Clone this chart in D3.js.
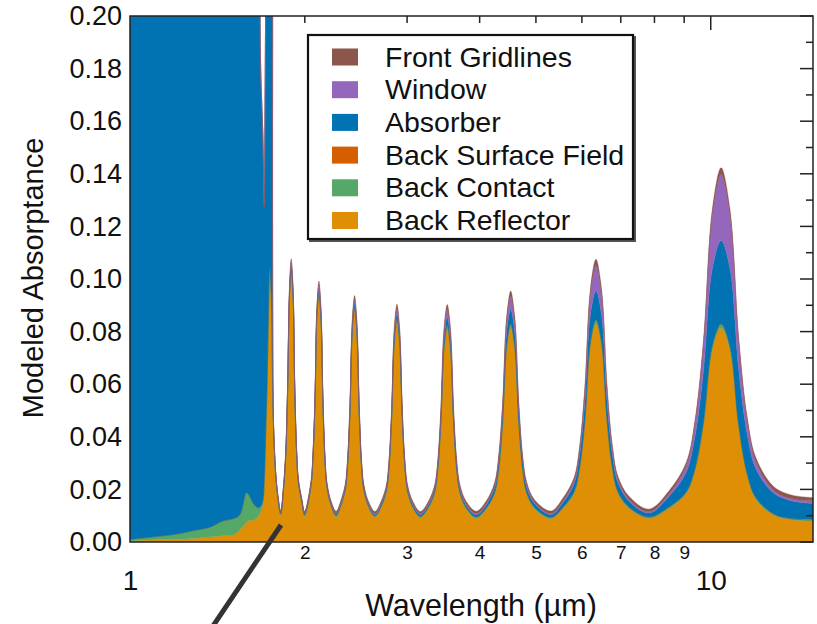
<!DOCTYPE html>
<html><head><meta charset="utf-8">
<script src="https://cdn.jsdelivr.net/npm/d3@7"></script>
<style>body{margin:0;background:#fff} svg{display:block}</style>
</head><body>
<svg id="chart" width="817" height="624"></svg>
<script>
// ---- data ----
const wavelength = [1.000,1.082,1.203,1.283,1.372,1.445,1.503,1.545,1.587,1.608,1.627,1.660,1.674,1.679,1.693,1.703,1.708,1.713,1.721,
 1.731,1.740,1.751,1.758,1.761,1.765,1.773,1.785,1.800,1.817,
 1.842,1.855,1.868,1.882,1.895,1.909,1.922,1.936,1.950,1.978,1.998,
 2.049,2.065,2.082,2.098,2.115,2.132,2.149,2.166,2.183,2.218,2.264,
 2.307,2.349,2.370,2.392,2.414,2.436,2.458,2.481,2.503,2.526,2.573,2.641,
 2.706,2.764,2.793,2.822,2.852,2.882,2.912,2.943,2.974,3.005,3.069,3.162,
 3.265,3.347,3.389,3.431,3.474,3.518,3.562,3.607,3.652,3.698,3.791,3.947,
 4.114,4.246,4.314,4.383,4.453,4.524,4.596,4.670,4.744,4.820,4.975,5.311,
 5.567,5.815,5.943,6.074,6.207,6.344,6.484,6.626,6.772,6.921,7.229,7.830,
 8.464,9.073,9.392,9.723,10.066,10.420,10.787,11.167,11.560,11.967,12.828,13.747,15.000];

const backReflector = [.0005,.0008,.0010,.0013,.0020,.0024,.0027,.0045,.0075,.0084,.0082,.0095,.0108,.0115,.0140,.0220,.0300,.0400,.0550,
 .0820,.1006,.0906,.0660,.0555,.0460,.0330,.0222,.0150,.0100,
 .0220,.0331,.0563,.0923,.1025,.0923,.0561,.0329,.0218,.0143,.0097,
 .0206,.0307,.0516,.0843,.0935,.0843,.0515,.0305,.0204,.0137,.0095,
 .0134,.0196,.0290,.0485,.0789,.0875,.0789,.0484,.0289,.0195,.0132,.0093,
 .0130,.0189,.0279,.0464,.0753,.0835,.0753,.0463,.0277,.0188,.0128,.0091,
 .0127,.0184,.0271,.0451,.0731,.0810,.0731,.0450,.0270,.0184,.0126,.0090,
 .0126,.0184,.0271,.0452,.0734,.0814,.0734,.0452,.0270,.0183,.0125,.0089,
 .0126,.0185,.0274,.0460,.0749,.0830,.0749,.0460,.0275,.0186,.0127,.0090,
 .0126,.0184,.0271,.0452,.0734,.0814,.0732,.0440,.0252,.0162,.0102,.0085,.0081];

const backContact = [.0005,.0010,.0020,.0030,.0036,.0056,.0061,.0058,.0112,.0089,.0068,.0035,.0025,.0020,.0015,.0015,.0018,.0020,.0025,
 .0030,.0035,.0031,.0025,.0022,.0019,.0015,.0010,.0007,.0005,
 .0006,.0006,.0008,.0009,.0010,.0009,.0008,.0006,.0005,.0004,.0004,
 .0005,.0006,.0007,.0009,.0010,.0009,.0007,.0006,.0005,.0004,.0004,
 .0004,.0005,.0006,.0007,.0009,.0010,.0009,.0007,.0006,.0005,.0004,.0004,
 .0004,.0005,.0006,.0007,.0009,.0010,.0009,.0007,.0006,.0005,.0004,.0004,
 .0004,.0005,.0006,.0007,.0009,.0010,.0009,.0007,.0005,.0004,.0003,.0003,
 .0004,.0004,.0006,.0008,.0011,.0012,.0011,.0008,.0006,.0004,.0004,.0003,
 .0004,.0004,.0006,.0008,.0011,.0012,.0011,.0008,.0006,.0004,.0004,.0003,
 .0004,.0004,.0006,.0008,.0011,.0012,.0011,.0007,.0005,.0004,.0003,.0002,.0002];

const backSurfaceField = [0,0,0,0,0,0,0,0,0,0,0,0,.0001,.0001,.0001,.0001,.0001,.0001,.0001,
 .0002,.0003,.0003,.0002,.0002,.0002,.0002,.0002,.0002,.0002,
 .0002,.0002,.0002,.0003,.0003,.0003,.0002,.0002,.0002,.0002,.0002,
 .0002,.0002,.0002,.0003,.0003,.0003,.0002,.0002,.0002,.0002,.0002,
 .0002,.0002,.0002,.0002,.0003,.0003,.0003,.0002,.0002,.0002,.0002,.0002,
 .0002,.0002,.0002,.0002,.0003,.0003,.0003,.0002,.0002,.0002,.0002,.0002,
 .0002,.0002,.0002,.0002,.0003,.0003,.0003,.0002,.0002,.0002,.0002,.0002,
 .0002,.0002,.0002,.0002,.0003,.0003,.0003,.0002,.0002,.0002,.0002,.0002,
 .0002,.0002,.0002,.0002,.0003,.0003,.0003,.0002,.0002,.0002,.0002,.0002,
 .0002,.0002,.0002,.0002,.0003,.0003,.0003,.0002,.0002,.0002,.0002,.0002,.0002];

const absorber = [.5,.5,.5,.5,.5,.5,.5,.5,.5,.5,.5,.5,.201,.166,.140,.104,.135,.170,.300,
 .400,.400,.400,.300,.250,.0004,.0003,.0003,.0003,.0003,
 .0004,.0005,.0008,.0011,.0012,.0011,.0008,.0006,.0005,.0004,.0004,
 .0005,.0006,.0009,.0013,.0014,.0013,.0010,.0007,.0006,.0005,.0005,
 .0006,.0007,.0008,.0011,.0016,.0017,.0016,.0012,.0009,.0007,.0006,.0006,
 .0007,.0008,.0010,.0013,.0019,.0020,.0019,.0014,.0010,.0009,.0008,.0007,
 .0008,.0010,.0013,.0020,.0029,.0032,.0029,.0020,.0014,.0011,.0009,.0008,
 .0012,.0017,.0025,.0036,.0051,.0055,.0051,.0037,.0026,.0019,.0014,.0010,
 .0018,.0030,.0045,.0070,.0102,.0110,.0102,.0072,.0048,.0034,.0023,.0015,
 .0040,.0075,.0121,.0196,.0293,.0317,.0296,.0213,.0149,.0110,.0079,.0068,.0062];

const windowLayer = [0,0,0,0,0,0,0,0,0,0,0,0,0,0,0,0,0,0,0,
 0,0,0,0,0,.0002,.0002,.0002,.0002,.0002,
 .0003,.0005,.0007,.0011,.0012,.0011,.0007,.0005,.0003,.0002,.0002,
 .0004,.0005,.0009,.0014,.0015,.0014,.0009,.0006,.0004,.0003,.0003,
 .0004,.0005,.0006,.0010,.0016,.0017,.0016,.0010,.0006,.0005,.0004,.0003,
 .0004,.0005,.0007,.0012,.0018,.0020,.0018,.0012,.0007,.0005,.0004,.0003,
 .0004,.0007,.0010,.0017,.0027,.0030,.0027,.0017,.0011,.0008,.0005,.0004,
 .0005,.0008,.0012,.0021,.0041,.0050,.0041,.0021,.0012,.0008,.0005,.0004,
 .0006,.0011,.0019,.0039,.0077,.0095,.0077,.0039,.0020,.0012,.0007,.0005,
 .0010,.0025,.0047,.0099,.0203,.0252,.0203,.0100,.0048,.0026,.0011,.0008,.0008];

const frontGridlines = [0,0,0,0,0,0,0,0,0,0,0,0,0,0,0,0,0,0,0,
 0,0,0,0,0,.0007,.0008,.0008,.0008,.0008,
 .0009,.0010,.0012,.0014,.0015,.0014,.0012,.0010,.0009,.0008,.0008,
 .0009,.0010,.0012,.0014,.0015,.0014,.0012,.0010,.0009,.0008,.0008,
 .0008,.0009,.0010,.0012,.0014,.0015,.0014,.0012,.0010,.0009,.0008,.0008,
 .0008,.0009,.0010,.0012,.0015,.0016,.0015,.0013,.0011,.0010,.0009,.0009,
 .0010,.0010,.0012,.0014,.0017,.0018,.0017,.0014,.0012,.0011,.0010,.0010,
 .0010,.0012,.0013,.0015,.0019,.0020,.0019,.0015,.0013,.0012,.0010,.0010,
 .0011,.0012,.0014,.0018,.0023,.0025,.0023,.0018,.0014,.0012,.0011,.0010,
 .0011,.0012,.0014,.0018,.0023,.0025,.0023,.0019,.0016,.0015,.0014,.0014,.0014];

const legendLabels = ["Front Gridlines","Window","Absorber","Back Surface Field","Back Contact","Back Reflector"];
const legendKeys   = ["frontGridlines","window","absorber","backSurfaceField","backContact","backReflector"];
const yTicks = [0,0.02,0.04,0.06,0.08,0.10,0.12,0.14,0.16,0.18,0.20];
const xMinorLabels = [2,3,4,5,6,7,8,9];
const xMajorLabels = [1,10];

// ---- chart ----
const series = {backReflector, backContact, backSurfaceField, absorber, window: windowLayer, frontGridlines};
const keys = ["backReflector","backContact","backSurfaceField","absorber","window","frontGridlines"];
const colors = {backReflector:"#DE8F05", backContact:"#55A868", backSurfaceField:"#D55E00",
                absorber:"#0173B2", window:"#9467BD", frontGridlines:"#8C564B"};
keys.forEach(k => { if (series[k].length !== wavelength.length) throw new Error(k+" length "+series[k].length+" vs "+wavelength.length); });

const L=130, R=813, T=16, B=542;
const FONT = "'Liberation Sans', Arial, Helvetica, sans-serif";
const svg = d3.select("#chart").style("font-family", FONT);
const x = d3.scaleLog().domain([1,15]).range([L,R]);
const y = d3.scaleLinear().domain([0,0.2]).range([B,T]);

const rows = wavelength.map((w,i) => { const r = {w}; keys.forEach(k => r[k] = series[k][i]); return r; });
const stacked = d3.stack().keys(keys)(rows);
const area = d3.area().x(d => x(d.data.w)).y0(d => y(d[0])).y1(d => y(d[1])).curve(d3.curveCatmullRom.alpha(0.5));

svg.append("defs").append("clipPath").attr("id","plotclip")
  .append("rect").attr("x",L).attr("y",T).attr("width",R-L).attr("height",B-T);

svg.append("g").attr("clip-path","url(#plotclip)")
  .selectAll("path").data(stacked).join("path")
  .attr("fill", d => colors[d.key])
  .attr("stroke", d => colors[d.key]).attr("stroke-width", 0.4)
  .attr("d", area);

// frame
svg.append("rect").attr("x",L).attr("y",T).attr("width",R-L).attr("height",B-T)
  .attr("fill","none").attr("stroke","#222").attr("stroke-width",1.5);

// left tick labels
const yAxis = d3.axisLeft(y).tickValues(yTicks).tickFormat(d3.format(".2f")).tickSize(0).tickPadding(8);
const gy = svg.append("g").attr("transform",`translate(${L},0)`).call(yAxis);
gy.select(".domain").remove();
gy.selectAll("text").attr("font-size",27).attr("fill","#111").attr("font-family",FONT);

// right ticks (inward)
const rightTicks = d3.range(0, 21).map(i => i/100);
svg.append("g").selectAll("line").data(rightTicks).join("line")
  .attr("x1", R).attr("x2", d => R - (Math.round(d*100)%2===0 ? 13 : 7))
  .attr("y1", d => y(d)).attr("y2", d => y(d))
  .attr("stroke","#222").attr("stroke-width",1.5);

// top ticks (inward)
svg.append("g").selectAll("line").data([2,3,4,5,6,7,8,9,10]).join("line")
  .attr("x1", d => x(d)).attr("x2", d => x(d))
  .attr("y1", T).attr("y2", d => T + (d===10 ? 14 : 7))
  .attr("stroke","#222").attr("stroke-width",1.5);

// bottom labels
const gxMinor = svg.append("g").attr("transform",`translate(0,${B})`)
  .call(d3.axisBottom(x).tickValues(xMinorLabels).tickFormat(d3.format("d")).tickSize(0).tickPadding(4));
gxMinor.select(".domain").remove();
gxMinor.selectAll("text").attr("font-size",19).attr("fill","#111").attr("font-family",FONT);

const gxMajor = svg.append("g").attr("transform",`translate(0,${B})`)
  .call(d3.axisBottom(x).tickValues(xMajorLabels).tickFormat(d3.format("d")).tickSize(0).tickPadding(28));
gxMajor.select(".domain").remove();
gxMajor.selectAll("text").attr("font-size",28).attr("fill","#111").attr("font-family",FONT);

// axis titles
svg.append("text").attr("x",481).attr("y",616).attr("text-anchor","middle")
  .attr("font-size",30.5).attr("fill","#111").text("Wavelength (µm)");
svg.append("text").attr("transform","translate(43,278) rotate(-90)").attr("text-anchor","middle")
  .attr("font-size",29).attr("fill","#111").text("Modeled Absorptance");

// legend
const lg = svg.append("g");
lg.append("rect").attr("x",310).attr("y",37).attr("width",325).attr("height",204)
  .attr("fill","#666").attr("stroke","#555").attr("stroke-width",2);
lg.append("rect").attr("x",308).attr("y",35).attr("width",325).attr("height",204)
  .attr("fill","#fff").attr("stroke","#111").attr("stroke-width",2.2);
const items = lg.selectAll("g.item").data(legendKeys).join("g").attr("class","item")
  .attr("transform",(d,i) => `translate(0,${57 + i*32.7})`);
items.append("rect").attr("x",332).attr("y",-8.5).attr("width",26).attr("height",17)
  .attr("fill", d => colors[d]);
items.append("text").attr("x",385).attr("y",9.5).attr("font-size",28.5).attr("fill","#111")
  .text((d,i) => legendLabels[i]);

// annotation pointer
svg.append("line").attr("x1",281).attr("y1",525).attr("x2",213).attr("y2",626)
  .attr("stroke","#333").attr("stroke-width",5).attr("stroke-linecap","butt");
</script>
</body></html>
